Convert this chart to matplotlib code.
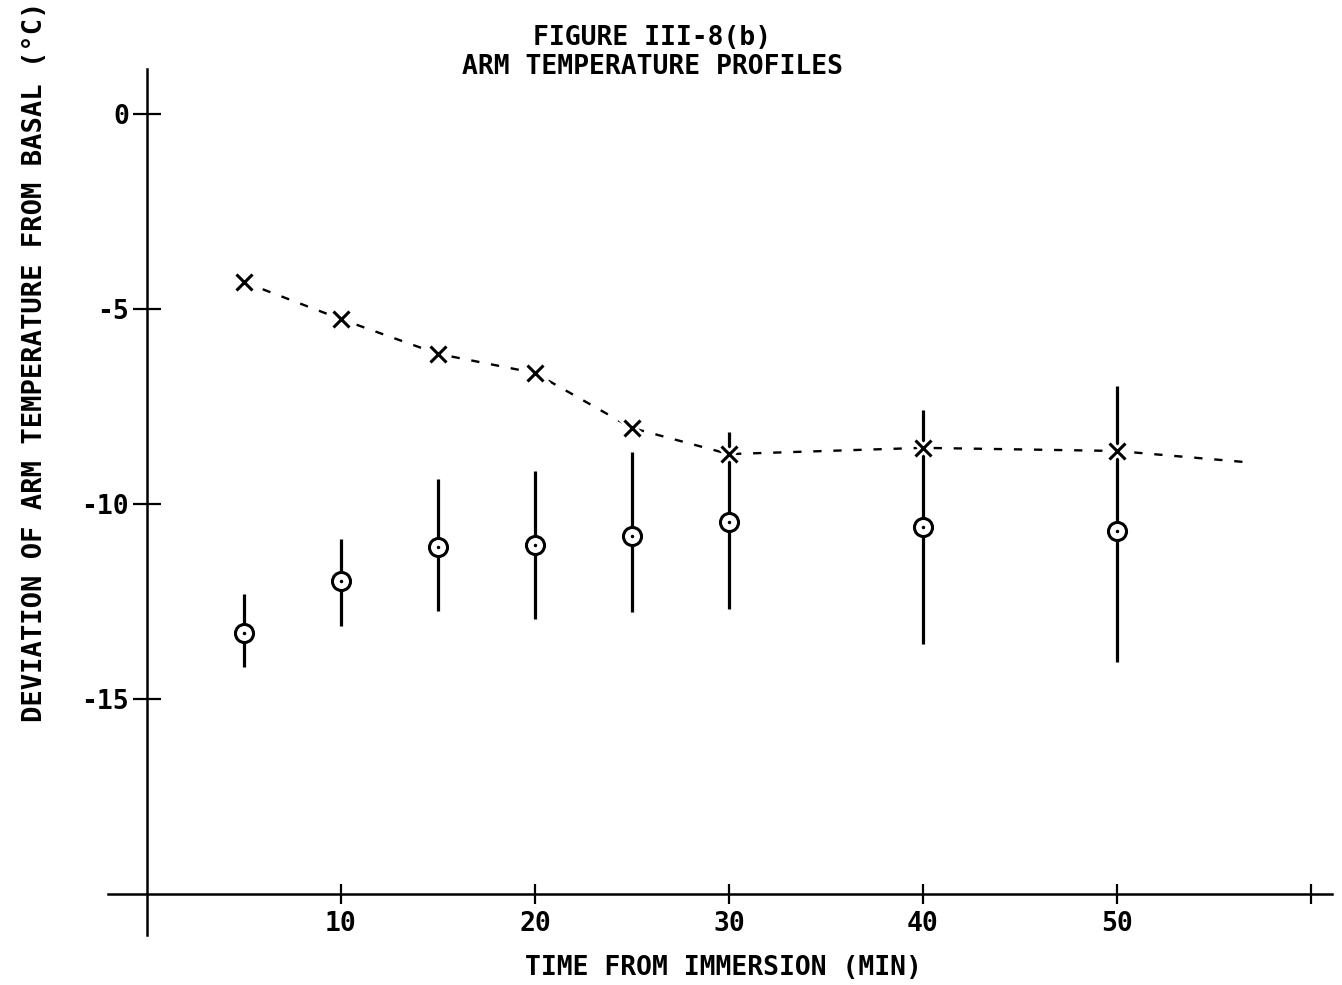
import numpy as np
import matplotlib
matplotlib.use("Agg")
import matplotlib.pyplot as plt

plt.rcParams['font.family'] = ['DejaVu Sans Mono', 'DejaVu Sans']
plt.rcParams['font.weight'] = 'bold'

# time from immersion (min)
times = [5, 10, 15, 20, 25, 30, 40, 50]

# mean deviation (circles) with spread (vertical bars)
circ_mean = [-13.31, -11.97, -11.10, -11.05, -10.82, -10.46, -10.60, -10.68]
circ_top = [-12.31, -10.90, -9.36, -9.15, -8.67, -8.15, -7.60, -6.97]
circ_bot = [-14.18, -13.13, -12.74, -12.95, -12.77, -12.69, -13.60, -14.05]

# crosses and the dashed curve through them (curve runs on a little past 50)
cross_y = [-4.31, -5.26, -6.15, -6.64, -8.05, -8.72, -8.56, -8.64]
curve_x = times + [56.5]
curve_y = cross_y + [-8.92]

xticks = [10, 20, 30, 40, 50, 60]
xticklabels = ['10', '20', '30', '40', '50', '']
yticks = [0, -5, -10, -15]
yticklabels = ['0', '-5', '-10', '-15']

fig = plt.figure(figsize=(13.42, 9.85), dpi=100)
ax = fig.add_axes([0.0806, 0.0508, 0.912, 0.879])
ax.set_xlim(-2, 61.1)
ax.set_ylim(-21.05, 1.15)

# axes cross at (0, -20), like the hand drawn frame
ax.spines['left'].set_position(('data', 0))
ax.spines['bottom'].set_position(('data', -20))
ax.spines['right'].set_visible(False)
ax.spines['top'].set_visible(False)
for s in ['left', 'bottom']:
    ax.spines[s].set_linewidth(1.8)

ax.set_xticks(xticks, labels=xticklabels)
ax.set_yticks(yticks, labels=yticklabels)
ax.tick_params(axis='x', direction='inout', length=15, width=1.6, labelsize=19, pad=5)
ax.tick_params(axis='y', direction='inout', length=20, width=1.6, labelsize=19, pad=3)

# spread bars
lo = np.array(circ_mean) - np.array(circ_bot)
hi = np.array(circ_top) - np.array(circ_mean)
ax.errorbar(times, circ_mean, yerr=[lo, hi], fmt='none', ecolor='black',
            elinewidth=2.3, capsize=0, zorder=2)

# dashed curve + crosses (white halo so bars break at the crosses)
ax.plot(curve_x, curve_y, color='black', lw=1.7, linestyle=(0, (3.5, 5)), zorder=3)
ax.plot(times, cross_y, 'x', color='white', ms=18, mew=6, zorder=4)
ax.plot(times, cross_y, 'x', color='black', ms=12, mew=2.2, zorder=5)

# open circles with a dot in the middle
ax.plot(times, circ_mean, 'o', mfc='white', mec='black', ms=13, mew=2.2, zorder=5)
ax.plot(times, circ_mean, '.', color='black', ms=3, zorder=6)

fig.text(0.486, 0.961, 'FIGURE III-8(b)', ha='center', va='center', fontsize=19)
fig.text(0.486, 0.932, 'ARM TEMPERATURE PROFILES', ha='center', va='center', fontsize=19)
fig.text(0.539, 0.017, 'TIME FROM IMMERSION (MIN)', ha='center', va='center', fontsize=19)
fig.text(0.026, 0.633, 'DEVIATION OF ARM TEMPERATURE FROM BASAL (°C)', ha='center',
         va='center', rotation=90, fontsize=19.5)

fig.savefig('out.png', dpi=100)
